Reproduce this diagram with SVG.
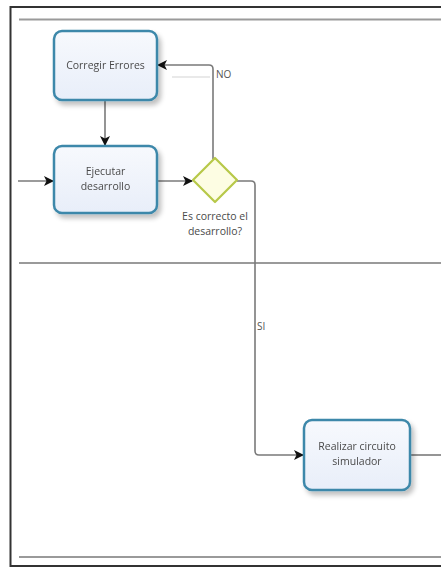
<svg xmlns="http://www.w3.org/2000/svg" width="441" height="568" viewBox="0 0 441 568">
  <style>
    .task rect { fill: url(#taskFill); stroke: #3e88aa; stroke-width: 2.5; }
    .lbl { font-family: "Open Sans", "Liberation Sans", sans-serif; font-size: 10.5px; fill: #4a4a4a; text-anchor: middle; }
    .flow { fill: none; stroke: #7a7a7a; stroke-width: 1.6; }
    .lane { stroke: #9a9a9a; stroke-width: 2.2; }
    .flowlbl { font-family: "Open Sans", "Liberation Sans", sans-serif; font-size: 10px; fill: #555; }
  </style>
  <defs>
    <linearGradient id="taskFill" x1="0" y1="0" x2="0" y2="1">
      <stop offset="0" stop-color="#f7f9fd"/>
      <stop offset="1" stop-color="#e8eef9"/>
    </linearGradient>
    <filter id="shadow" x="-20%" y="-20%" width="150%" height="150%">
      <feGaussianBlur in="SourceAlpha" stdDeviation="2.5"/>
      <feOffset dx="3" dy="4" result="b"/>
      <feComponentTransfer><feFuncA type="linear" slope="0.25"/></feComponentTransfer>
      <feMerge><feMergeNode/><feMergeNode in="SourceGraphic"/></feMerge>
    </filter>
    <marker id="arrow" viewBox="0 0 10 10" refX="9" refY="5" markerWidth="10" markerHeight="10" markerUnits="userSpaceOnUse" orient="auto">
      <path d="M0,0 L10,5 L0,10 L2.5,5 Z" fill="#111"/>
    </marker>
  </defs>

  <rect width="441" height="568" fill="#fff"/>

  <!-- pool frame and lane separators -->
  <rect x="10.5" y="7" width="440" height="559" fill="none" stroke="#333" stroke-width="2"/>
  <line class="lane" x1="19" y1="19.5" x2="441" y2="19.5"/>
  <line class="lane" x1="19" y1="263" x2="441" y2="263"/>
  <line class="lane" x1="19" y1="557" x2="441" y2="557"/>

  <!-- connectors -->
  <g id="connectors">
    <line class="flow" x1="18" y1="181" x2="53" y2="181" stroke="#333" marker-end="url(#arrow)"/>
    <line class="flow" x1="105" y1="101" x2="105" y2="145" stroke="#333" marker-end="url(#arrow)"/>
    <line class="flow" x1="158" y1="181" x2="192" y2="181" stroke="#333" marker-end="url(#arrow)"/>
    <path class="flow" d="M213,159 L213,69 Q213,65 209,65 L158,65" marker-end="url(#arrow)"/>
    <line x1="172" y1="77" x2="210" y2="77" stroke="#e2e2e2" stroke-width="1.5"/>
    <path class="flow" d="M237,181 L251,181 Q255,181 255,185 L255,451 Q255,455 259,455 L303,455" marker-end="url(#arrow)"/>
    <line class="flow" x1="411" y1="455" x2="441" y2="455"/>
    <text class="flowlbl" x="216" y="78">NO</text>
    <text class="flowlbl" x="257" y="330" font-size="9">SI</text>
  </g>

  <g id="corregir-errores" class="task" filter="url(#shadow)">
    <rect x="54" y="31" width="103" height="69" rx="8"/>
    <text class="lbl" x="105.5" y="69">Corregir Errores</text>
  </g>

  <g id="ejecutar-desarrollo" class="task" filter="url(#shadow)">
    <rect x="54" y="146" width="103" height="67" rx="8"/>
    <text class="lbl" x="105.5" y="175">Ejecutar</text>
    <text class="lbl" x="105.5" y="190">desarrollo</text>
  </g>

  <g id="decision">
    <polygon points="215,158 237,180 215,202 193,180" fill="#fdfde3" stroke="#b7c848" stroke-width="2.2" stroke-linejoin="round"/>
    <text class="lbl" x="215" y="220">Es correcto el</text>
    <text class="lbl" x="215" y="235">desarrollo?</text>
  </g>

  <g id="realizar-circuito" class="task" filter="url(#shadow)">
    <rect x="304" y="420" width="106" height="70" rx="8"/>
    <text class="lbl" x="357" y="450">Realizar circuito</text>
    <text class="lbl" x="357" y="465">simulador</text>
  </g>
</svg>
